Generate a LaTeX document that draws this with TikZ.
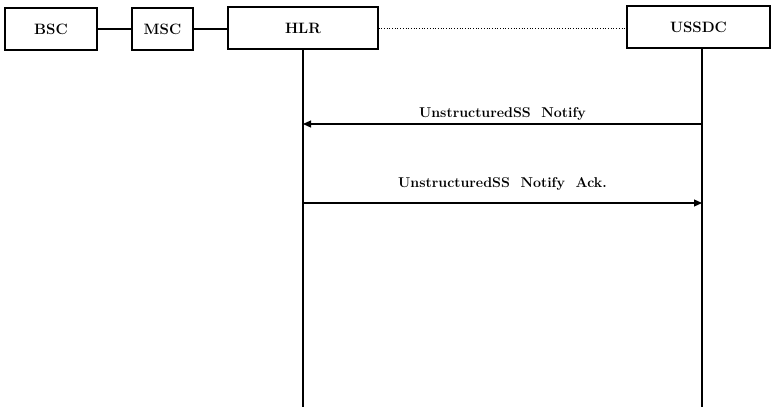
\documentclass[tikz,border=0pt]{standalone}
\usetikzlibrary{arrows.meta}
\begin{document}
\begin{tikzpicture}[x=1pt,y=-1pt,
  entity/.style={draw,line width=1.1pt,minimum height=42pt,inner sep=0pt,font=\fontsize{15}{17}\selectfont\bfseries},
  link/.style={line width=1.1pt},
  lifeline/.style={line width=1.4pt},
  msg/.style={line width=1.1pt,-{Triangle[length=8pt,width=7pt]}},
  msglabel/.style={font=\fontsize{14.2}{17}\selectfont\bfseries,anchor=base}]
  \useasboundingbox (0,0) rectangle (776,407);
  % network elements
  \node[entity,minimum width=92pt] (bsc) at (51,29) {BSC};
  \node[entity,minimum width=61pt] (msc) at (162.5,29) {MSC};
  \node[entity,minimum width=150pt] (hlr) at (303,28) {HLR};
  \node[entity,minimum width=143pt] (ussdc) at (698.5,27) {USSDC};
  % links between elements
  \draw[link] (bsc.east) -- (msc.west);
  \draw[link] (msc.east) -- (msc.east -| hlr.west);
  \draw[line width=0.7pt,dotted] (hlr.east) -- (ussdc.west |- hlr.east);
  % lifelines
  \coordinate (hlrend) at (303,407);
  \coordinate (ussdcend) at (702,407);
  \draw[lifeline] (hlr.south) -- (hlrend);
  \draw[lifeline] (ussdc.south -| ussdcend) -- (ussdcend);
  % messages
  \coordinate (u1) at (702,124);
  \coordinate (h1) at (303,124);
  \coordinate (h2) at (303,203);
  \coordinate (u2) at (702,203);
  \draw[msg] (u1) -- node[msglabel,yshift=7pt] {UnstructuredSS\ \ Notify} (h1);
  \draw[msg] (h2) -- node[msglabel,yshift=16pt] {UnstructuredSS\ \ Notify\ \ Ack.} (u2);
\end{tikzpicture}
\end{document}
